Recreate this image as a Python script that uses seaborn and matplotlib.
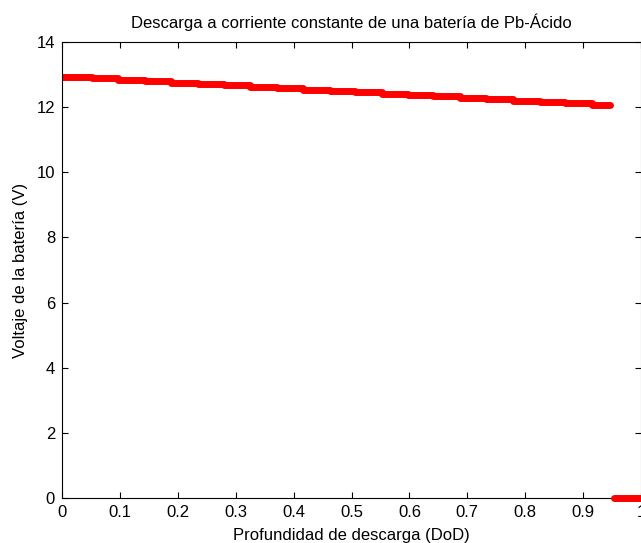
import numpy as np
import seaborn as sns
import matplotlib.pyplot as plt

# Depth of discharge where each voltage level starts (read from the staircase)
dod_edges = [0.0, 0.051, 0.097, 0.143, 0.189, 0.235, 0.279, 0.325, 0.371,
             0.417, 0.463, 0.506, 0.552, 0.598, 0.641, 0.687, 0.733, 0.779,
             0.825, 0.868, 0.915, 0.946]
# Battery voltage on each step (V)
volt_levels = [12.92, 12.88, 12.84, 12.80, 12.75, 12.71, 12.67, 12.63, 12.58,
               12.54, 12.50, 12.46, 12.41, 12.37, 12.33, 12.29, 12.24, 12.20,
               12.16, 12.12, 12.08]
# Battery cut off: voltage at zero after ~0.95 DoD
dod_cut = [0.953, 1.0]
volt_cut = [0.0, 0.0]

x_ticks = [0, 0.1, 0.2, 0.3, 0.4, 0.5, 0.6, 0.7, 0.8, 0.9, 1]
x_tick_labels = ["0", "0.1", "0.2", "0.3", "0.4", "0.5", "0.6", "0.7", "0.8", "0.9", "1"]
y_ticks = [0, 2, 4, 6, 8, 10, 12, 14]


def main():
    sns.set_style("ticks")
    plt.rcParams["font.family"] = ["Liberation Sans", "DejaVu Sans"]
    plt.rcParams["text.color"] = "black"
    plt.rcParams["axes.labelcolor"] = "black"
    plt.rcParams["xtick.direction"] = "in"
    plt.rcParams["ytick.direction"] = "in"

    fig = plt.figure(figsize=(6.41, 5.43), dpi=100)
    ax = fig.add_axes([62 / 641, 1 - 498 / 543, 579 / 641, 456 / 543])

    step_y = volt_levels + [volt_levels[-1]]
    sns.lineplot(x=dod_edges, y=step_y, ax=ax, color="#ff0000", linewidth=5,
                 drawstyle="steps-post", estimator=None, sort=False,
                 solid_capstyle="round", solid_joinstyle="round")
    sns.lineplot(x=dod_cut, y=volt_cut, ax=ax, color="#ff0000", linewidth=5,
                 estimator=None, sort=False, solid_capstyle="round",
                 clip_on=False, zorder=5)

    ax.set_xlim(0, 1)
    ax.set_ylim(0, 14)
    ax.set_xticks(x_ticks)
    ax.set_xticklabels(x_tick_labels)
    ax.set_yticks(y_ticks)
    ax.tick_params(axis="both", which="both", direction="in", length=4,
                   width=0.8, labelsize=12, top=True, right=True, pad=5,
                   colors="black")
    for side, sp in ax.spines.items():
        sp.set_visible(True)
        sp.set_color("black")
        sp.set_linewidth(0.8)
    ax.spines["right"].set_color("#888888")

    ax.set_title("Descarga a corriente constante de una batería de Pb-Ácido",
                 fontsize=12, pad=10)
    ax.set_xlabel("Profundidad de descarga (DoD)", fontsize=12, labelpad=6)
    ax.set_ylabel("Voltaje de la batería (V)", fontsize=12, labelpad=6)

    fig.savefig("out.png", dpi=100)


if __name__ == "__main__":
    main()
